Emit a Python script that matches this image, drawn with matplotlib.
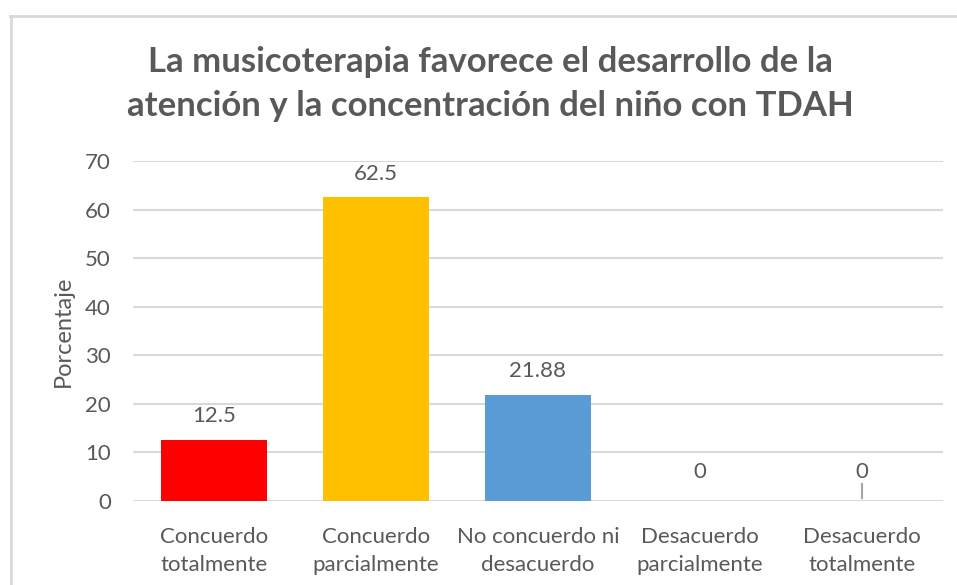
import matplotlib
matplotlib.use("Agg")
import matplotlib.pyplot as plt
from matplotlib.lines import Line2D

categories = ["Concuerdo\ntotalmente", "Concuerdo\nparcialmente", "No concuerdo ni\ndesacuerdo",
              "Desacuerdo\nparcialmente", "Desacuerdo\ntotalmente"]
values = [12.5, 62.5, 21.88, 0, 0]
labels = ["12.5", "62.5", "21.88", "0", "0"]
colors = ["#FF0000", "#FFC000", "#5B9BD5", "#A5A5A5", "#A5A5A5"]
yticks = [0, 10, 20, 30, 40, 50, 60, 70]
title = "La musicoterapia favorece el desarrollo de la\natención y la concentración del niño con TDAH"

plt.rcParams['font.family'] = ['Lato', 'DejaVu Sans']
txt = "#595959"
W, H = 957, 585
fig = plt.figure(figsize=(W/100, H/100), dpi=100)
ax = fig.add_axes([133/W, 1-501/H, (943-133)/W, (501-161)/H])

x = list(range(len(categories)))
ax.bar(x, values, width=0.65, color=colors, zorder=3)
for xi, v, lab in zip(x, values, labels):
    ax.annotate(lab, (xi, v), xytext=(0, 14 if v == 0 else 10), textcoords="offset points",
                ha="center", va="bottom", fontsize=16, color=txt)
# small marker line on last zero bar as in reference
ax.plot([x[-1], x[-1]], [0.7, 3.6], color="#A5A5A5", lw=1.5, zorder=4)

ax.set_xlim(-0.5, len(categories)-0.5)
ax.set_ylim(0, 70)
ax.set_yticks(yticks)
ax.set_yticklabels([str(t) for t in yticks], fontsize=16, color=txt)
ax.set_xticks(x)
ax.set_xticklabels(categories, fontsize=16, color=txt, linespacing=1.45)
ax.tick_params(axis="y", length=0, pad=16)
ax.tick_params(axis="x", length=0, pad=19)
ax.grid(axis="y", color="#D9D9D9", lw=1.5, zorder=0)
for s in ax.spines.values():
    s.set_visible(False)
ax.set_ylabel("Porcentaje", fontsize=17, color=txt, labelpad=8)

fig.text(490/W, 1-84/H, title, ha="center", va="center", fontsize=25,
         fontweight="bold", color=txt, linespacing=1.45)

fig.add_artist(Line2D([10/W, 1], [1-16/H, 1-16/H], color="#D9D9D9", lw=2, transform=fig.transFigure))
fig.add_artist(Line2D([11/W, 11/W], [0, 1-16/H], color="#D9D9D9", lw=2, transform=fig.transFigure))

fig.savefig("out.png", dpi=100)
